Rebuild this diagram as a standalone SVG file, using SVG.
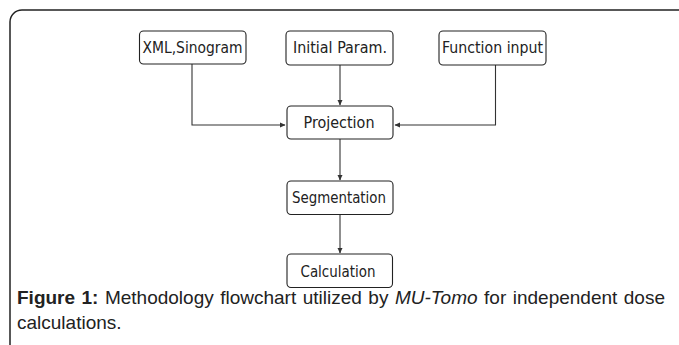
<svg xmlns="http://www.w3.org/2000/svg" width="679" height="345" viewBox="0 0 679 345">
<defs>
<style>
.frame{fill:none;stroke:#222;stroke-width:1.5}
.box{fill:#fff;stroke:#222;stroke-width:1.1}
.lbl{font-family:"DejaVu Sans",Verdana,sans-serif;font-size:15px;fill:#222;text-anchor:middle}
.conn{fill:none;stroke:#333;stroke-width:1.1}
.cap{font-family:"Liberation Sans",Arial,sans-serif;font-size:19px;fill:#222}
</style>
<marker id="arr" markerWidth="6" markerHeight="6" refX="5" refY="3" orient="auto" markerUnits="userSpaceOnUse">
<path d="M0,0.5 L5.5,3 L0,5.5 Z" fill="#333"/>
</marker>
</defs>
<rect width="679" height="345" fill="#fff"/>
<rect class="frame" x="10" y="10" width="680" height="350" rx="12"/>
<g id="connectors">
<path class="conn" d="M192,64 V125 H285" marker-end="url(#arr)"/>
<path class="conn" d="M340,65 V105" marker-end="url(#arr)"/>
<path class="conn" d="M495.5,65 V125 H395" marker-end="url(#arr)"/>
<path class="conn" d="M340,139 V180" marker-end="url(#arr)"/>
<path class="conn" d="M340,214 V253" marker-end="url(#arr)"/>
</g>
<g id="xml">
<rect class="box" x="139.5" y="31" width="106.5" height="33" rx="4"/>
<text class="lbl" x="192.5" y="53" textLength="100" lengthAdjust="spacingAndGlyphs">XML,Sinogram</text>
</g>
<g id="initial">
<rect class="box" x="286" y="31" width="107" height="34" rx="4"/>
<text class="lbl" x="340" y="53" textLength="94" lengthAdjust="spacingAndGlyphs">Initial Param.</text>
</g>
<g id="function">
<rect class="box" x="439" y="31" width="107" height="34" rx="4"/>
<text class="lbl" x="492.5" y="53" textLength="101" lengthAdjust="spacingAndGlyphs">Function input</text>
</g>
<g id="projection">
<rect class="box" x="287" y="106" width="106" height="33" rx="4"/>
<text class="lbl" x="339" y="128" textLength="71" lengthAdjust="spacingAndGlyphs">Projection</text>
</g>
<g id="segmentation">
<rect class="box" x="287" y="181" width="106" height="33.5" rx="4"/>
<text class="lbl" x="339" y="203" textLength="94" lengthAdjust="spacingAndGlyphs">Segmentation</text>
</g>
<g id="calculation">
<rect class="box" x="287" y="254" width="105.5" height="33.5" rx="4"/>
<text class="lbl" x="338" y="276.5" textLength="75" lengthAdjust="spacingAndGlyphs">Calculation</text>
</g>
<text class="cap" x="17" y="304" word-spacing="1.2"><tspan font-weight="bold">Figure 1:</tspan> Methodology flowchart utilized by <tspan font-style="italic">MU-Tomo</tspan> for independent dose</text>
<text class="cap" x="17" y="329">calculations.</text>
</svg>
